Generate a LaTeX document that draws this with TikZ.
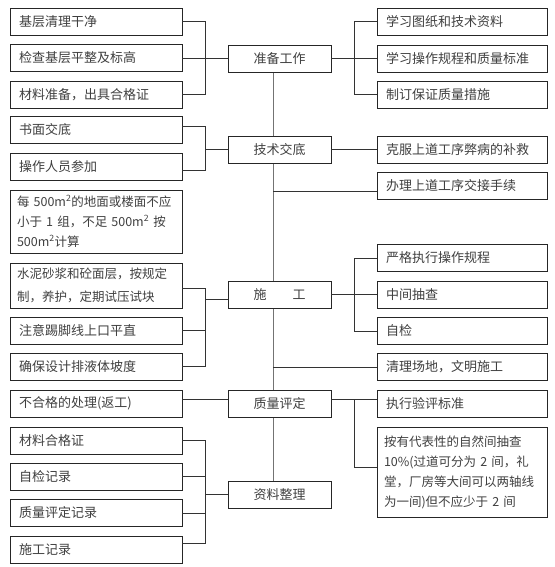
\documentclass[tikz,border=0pt]{standalone}
\usepackage{fontspec}
\setmainfont{Noto Sans CJK SC}
\usepackage{tikz}
\usetikzlibrary{positioning, calc, backgrounds}

\tikzset{
    box/.style={draw=black!85, fill=white, line width=0.8pt, text=black!75,
        minimum height=27pt, font=\fontsize{13pt}{20pt}\selectfont},
    lbox/.style={box, text width=154pt, inner xsep=9pt, align=left},
    rbox/.style={box, text width=152pt, inner xsep=9pt, align=left},
    midbox/.style={box, minimum width=103pt, inner sep=0pt},
    longtext/.style={inner xsep=7pt, font=\fontsize{12.5pt}{20pt}\selectfont},
    link/.style={draw=black!80, line width=0.6pt},
    spineline/.style={draw=black!55, line width=0.8pt}
}

\begin{document}
\begin{tikzpicture}[x=1pt, y=-1pt]
\useasboundingbox (0,0) rectangle (554,567);
% Bus lines
\coordinate (spine) at (273,0);
\coordinate (lbus) at (205,0);
\coordinate (rbus) at (354,0);
% Main steps
\node[midbox] (c1) at (279.5,58.5) {准备工作};
\node[midbox] (c2) at (279.5,149.5) {技术交底};
\node[midbox] (c3) at (279.5,294.5) {施\hspace{2em}工};
\node[midbox] (c4) at (279.5,403.5) {质量评定};
\node[midbox] (c5) at (279.5,494.5) {资料整理};
% Left items
\foreach \n/\y/\t in {1/21.5/基层清理干净, 2/58/检查基层平整及标高,
    3/94.5/材料准备，出具合格证, 4/130/书面交底, 5/166.5/操作人员参加,
    8/330.5/注意踢脚线上口平直, 9/366.5/确保设计排液体坡度,
    10/403.5/不合格的处理(返工), 11/440.5/材料合格证, 12/476.5/自检记录,
    13/513/质量评定记录, 14/549.5/施工记录} {
    \node[lbox] (l\n) at (96,\y) {\t};
}
\node[lbox, longtext, text width=158pt, minimum height=63pt] (l6) at (96,221.5)
    {每 500m\textsuperscript{2}的地面或楼面不应\\小于 1 组，不足 500m\textsuperscript{2} 按\\500m\textsuperscript{2}计算};
\node[lbox, longtext, text width=158pt, minimum height=45pt,
    font=\fontsize{12.5pt}{23pt}\selectfont] (l7) at (96,285.5)
    {水泥砂浆和砼面层，按规定\\制，养护，定期试压试块};
% Right items
\foreach \n/\y/\t in {1/21.5/学习图纸和技术资料, 2/58.5/学习操作规程和质量标准,
    3/94.5/制订保证质量措施, 4/149.5/克服上道工序弊病的补救,
    5/185.5/办理上道工序交接手续, 6/258/严格执行操作规程, 7/294.5/中间抽查,
    8/331/自检, 9/367/清理场地，文明施工, 10/404/执行验评标准} {
    \node[rbox] (r\n) at (462,\y) {\t};
}
\node[rbox, longtext, text width=156pt, minimum height=90pt] (r11) at (462,472)
    {按有代表性的自然间抽查\\10\%(过道可分为 2 间，礼\\堂，厂房等大间可以两轴线\\为一间)但不应少于 2 间};

% Spine behind the main steps
\begin{scope}[on background layer]
\draw[spineline] ([xshift=-6.5pt]c1.south) -- ([xshift=-6.5pt]c5.north);
\end{scope}
\coordinate (r5i) at ([yshift=-5.5pt]r5.west);
\draw[link] (r5i) -- (r5i -| spine);
\draw[link] (r9.west) -- (r9.west -| spine);

% Left brackets
\draw[link] (l1.east) -- (l1.east -| lbus) -- (l3.east -| lbus) -- (l3.east);
\draw[link] (l2.east) -- (l2.east -| c1.west);
\coordinate (l4o) at ([yshift=4pt]l4.east);
\coordinate (l5o) at ([yshift=-3.5pt]l5.east);
\draw[link] (l4o) -- (l4o -| lbus) -- (l5o -| lbus) -- (l5o);
\draw[link] (c2.west) -- (c2.west -| lbus);
\coordinate (l7o) at ([yshift=-2.5pt]l7.east);
\coordinate (c3i) at ([yshift=-4.5pt]c3.west);
\draw[link] (l7o) -- (l7o -| lbus) -- (l9.east -| lbus) -- (l9.east);
\draw[link] (l8.east) -- (l8.east -| lbus);
\draw[link] (c3i) -- (c3i -| lbus);
\coordinate (c4l) at ([yshift=4pt]c4.west);
\draw[link] (c4l) -- (c4l -| l10.east);
\coordinate (l14o) at ([yshift=6.5pt]l14.east);
\draw[link] (l11.east) -- (l11.east -| lbus) -- (l14o -| lbus) -- (l14o);
\foreach \n in {12,13} {
    \draw[link] (l\n.east) -- (l\n.east -| lbus);
}
\draw[link] (c5.west) -- (c5.west -| lbus);

% Right brackets
\draw[link] (r1.west) -- (r1.west -| rbus) -- (r3.west -| rbus) -- (r3.west);
\draw[link] (c1.east) -- (c1.east -| r2.west);
\draw[link] (c2.east) -- (c2.east -| r4.west);
\draw[link] (r6.west) -- (r6.west -| rbus) -- (r8.west -| rbus) -- (r8.west);
\draw[link] (c3.east) -- (c3.east -| r7.west);
\coordinate (c4r) at ([yshift=4pt]c4.east);
\coordinate (r11i) at ([yshift=5pt]r11.west);
\draw[link] (c4r) -- (c4r -| r10.west);
\draw[link] (c4r -| rbus) -- (r11i -| rbus) -- (r11i);
\end{tikzpicture}
\end{document}
